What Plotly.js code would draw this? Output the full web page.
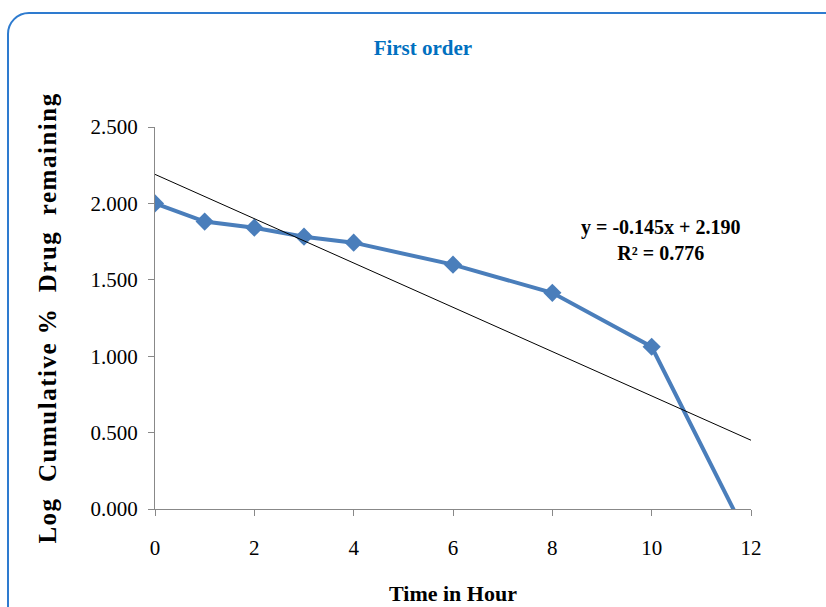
<!DOCTYPE html>
<html>
<head>
<meta charset="utf-8">
<script src="https://cdn.plot.ly/plotly-3.0.1.min.js"></script>
<style>
  html, body { margin:0; padding:0; background:#fff; }
  #wrap { position:relative; width:826px; height:607px; overflow:hidden; }
  #frame { position:absolute; left:7px; top:12px; width:840px; height:620px;
           border:2px solid #2e7bcf; border-radius:22px; box-sizing:border-box; }
  #chart { position:absolute; left:0; top:0; width:826px; height:607px; }
</style>
</head>
<body>
<div id="wrap">
  <div id="frame"></div>
  <div id="chart"></div>
</div>
<script>
// Data
const timeHours = [0, 1, 2, 3, 4, 6, 8, 10, 12];
const logRemaining = [2.000, 1.881, 1.841, 1.782, 1.743, 1.599, 1.415, 1.062, -0.23];
// Trendline from the chart's equation
const trendSlope = -0.145;
const trendIntercept = 2.190;
const trendX = [0, 12];
const xTicks = [0, 2, 4, 6, 8, 10, 12];
const yTicks = [0, 0.5, 1.0, 1.5, 2.0, 2.5];

const trendY = trendX.map(x => trendSlope * x + trendIntercept);

const serif = 'Liberation Serif, Times New Roman, serif';

const traces = [
  {
    x: timeHours, y: logRemaining, type: 'scatter', mode: 'lines+markers',
    line: {color: '#4a7ebb', width: 4},
    marker: {symbol: 'diamond', size: 14, color: '#4a7ebb'},
    cliponaxis: true, showlegend: false, hoverinfo: 'x+y'
  },
  {
    x: trendX, y: trendY, type: 'scatter', mode: 'lines',
    line: {color: '#000000', width: 1}, showlegend: false
  }
];

const layout = {
  width: 826, height: 607,
  paper_bgcolor: 'rgba(0,0,0,0)', plot_bgcolor: 'rgba(0,0,0,0)',
  margin: {l: 155, r: 75, t: 127, b: 98},
  title: {
    text: '<b>First order</b>', x: 0.512, xref: 'container', xanchor: 'center',
    y: 0.922, yref: 'container', yanchor: 'middle',
    font: {family: serif, size: 21, color: '#0070c0'}
  },
  xaxis: {
    range: [0, 12], tickvals: xTicks, ticktext: xTicks.map(String),
    showgrid: false, zeroline: false, showline: true, linecolor: '#888', linewidth: 1,
    ticks: 'outside', ticklen: 6, tickcolor: '#888', ticklabelstandoff: 14,
    tickfont: {family: serif, size: 21, color: '#000'},
    title: {text: '<b>Time in Hour</b>', standoff: 26, font: {family: serif, size: 22, color: '#000'}}
  },
  yaxis: {
    range: [0, 2.5], tickvals: yTicks, ticktext: yTicks.map(v => v.toFixed(3)),
    showgrid: false, zeroline: false, showline: true, linecolor: '#888', linewidth: 1,
    ticks: 'outside', ticklen: 6, tickcolor: '#888', ticklabelstandoff: 6,
    tickfont: {family: serif, size: 21, color: '#000'},
    title: {text: '<b>Log&nbsp; Cumulative&nbsp;%&nbsp; Drug&nbsp; remaining</b>', standoff: 26,
            font: {family: serif, size: 25, color: '#000'}}
  },
  annotations: [
    {
      xref: 'paper', yref: 'paper', x: (660 - 155) / 596, y: (509 - 240) / 382,
      xanchor: 'center', yanchor: 'middle', showarrow: false, align: 'center',
      text: '<b>y = -0.145x + 2.190<br>R² = 0.776</b>',
      font: {family: serif, size: 20, color: '#000'}
    }
  ]
};

Plotly.newPlot('chart', traces, layout, {displayModeBar: false, staticPlot: true}).then(() => {
  const yt = document.querySelector('.ytitle');
  if (yt) yt.style.letterSpacing = '1.5px';
});
</script>
</body>
</html>
